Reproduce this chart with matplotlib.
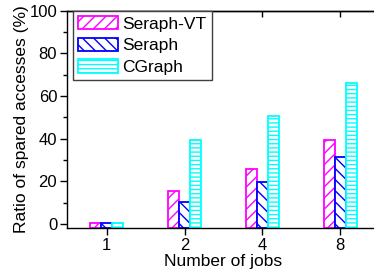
import numpy as np
import matplotlib
matplotlib.use("Agg")
import matplotlib.pyplot as plt
from matplotlib.ticker import MultipleLocator

plt.rcParams['font.family'] = ['Liberation Sans', 'DejaVu Sans']
plt.rcParams['hatch.linewidth'] = 1.0

# data
jobs = ["1", "2", "4", "8"]
seraph_vt = [0.5, 15.3, 25.8, 39.5]
seraph = [0.5, 10.4, 19.5, 31.4]
cgraph = [0.5, 39.5, 50.6, 66.0]

series = [
    ("Seraph-VT", seraph_vt, "#ff00ff", "///"),
    ("Seraph", seraph, "#0000ff", "\\\\\\"),
    ("CGraph", cgraph, "#00ffff", "----"),
]

fig = plt.figure(figsize=(3.74, 2.69), dpi=100)
ax = fig.add_axes([0.179, 0.152, 0.835, 0.808])

ymin = -2
x = np.arange(len(jobs))
w = 0.14
for i, (name, vals, col, hatch) in enumerate(series):
    vals = np.array(vals)
    ax.bar(x + (i - 1) * w, vals - ymin, w, bottom=ymin, facecolor="white",
           edgecolor=col, hatch=hatch, linewidth=1.3, label=name)

ax.set_xlim(-0.51, 3.5)
ax.set_ylim(ymin, 100)
ax.set_xticks(x, jobs)
ax.set_yticks(range(0, 101, 20))
ax.yaxis.set_minor_locator(MultipleLocator(10))

ax.tick_params(axis="both", labelsize=12, width=1, length=5, direction="out", pad=2)
ax.tick_params(axis="y", which="minor", length=3, width=1, direction="out")
ax.spines["right"].set_visible(False)
for s in ax.spines.values():
    s.set_linewidth(1)

# top ticks pointing in
top = ax.secondary_xaxis("top")
top.set_xticks(x)
top.tick_params(direction="in", length=4, width=1, labeltop=False)
top.spines["top"].set_linewidth(1)

ax.set_xlabel("Number of jobs", fontsize=12.5, labelpad=0.5)
ax.set_ylabel("Ratio of spared accesses (%)", fontsize=12.5, labelpad=0)

leg = ax.legend(loc="upper left", bbox_to_anchor=(0.019, 1.0), fontsize=12.5,
                fancybox=False, edgecolor="#404040", framealpha=1,
                handlelength=2.3, handleheight=0.8, labelspacing=0.35,
                borderpad=0.3, handletextpad=0.25, borderaxespad=0.0)
leg.get_frame().set_linewidth(1)

fig.savefig("out.png", dpi=100)
